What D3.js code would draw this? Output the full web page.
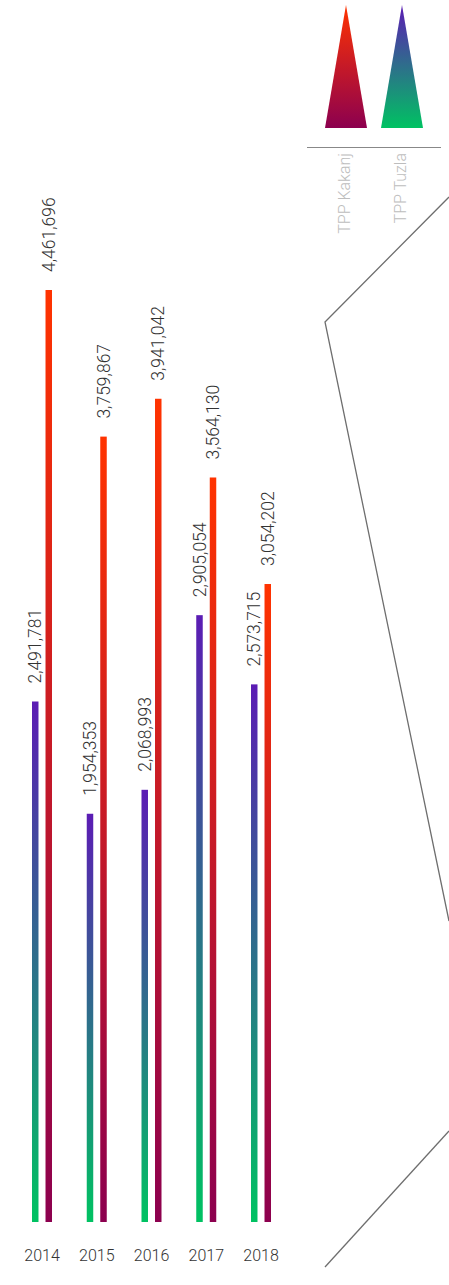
<!DOCTYPE html>
<html>
<head>
<meta charset="utf-8">
<script src="https://d3js.org/d3.v7.min.js"></script>
<style>
  html, body { margin: 0; padding: 0; background: #fff; }
  svg { display: block; font-family: Roboto, "Open Sans", sans-serif; }
</style>
</head>
<body>
<svg id="chart" width="449" height="1285"></svg>
<script>
// data
var years = ["2014", "2015", "2016", "2017", "2018"];
var plants = ["TPP Tuzla", "TPP Kakanj"];
var tuzla = [2491781, 1954353, 2068993, 2905054, 2573715];
var kakanj = [4461696, 3759867, 3941042, 3564130, 3054202];

var svg = d3.select("#chart");
var defs = svg.append("defs");

// vertical gradients per plant (bottom -> top)
function addGradient(id, bottom, top) {
    var g = defs.append("linearGradient")
        .attr("id", id)
        .attr("x1", 0).attr("y1", 1)
        .attr("x2", 0).attr("y2", 0);
    g.append("stop").attr("offset", "0%").attr("stop-color", bottom);
    g.append("stop").attr("offset", "100%").attr("stop-color", top);
}
addGradient("grad-tuzla", "#00c262", "#5b1cb4");
addGradient("grad-kakanj", "#8c004f", "#ff3300");
var gradFor = { "TPP Tuzla": "url(#grad-tuzla)", "TPP Kakanj": "url(#grad-kakanj)" };

var baseline = 1222;
var y = d3.scaleLinear().domain([0, 4500000]).range([baseline, 282]);
var x = d3.scalePoint().domain(years).range([42, 261]);
var xs = d3.scaleBand().domain(plants).range([-10, 10]).paddingInner(0.52);

var rows = years.map(function (yr, i) {
    return { year: yr, values: [
        { plant: "TPP Tuzla", value: tuzla[i] },
        { plant: "TPP Kakanj", value: kakanj[i] }
    ] };
});

var groups = svg.selectAll(".year")
    .data(rows)
    .enter()
    .append("g")
    .attr("class", "year")
    .attr("transform", function (d) { return "translate(" + x(d.year) + ",0)"; });

groups.selectAll("rect")
    .data(function (d) { return d.values; })
    .enter()
    .append("rect")
    .attr("x", function (d) { return xs(d.plant); })
    .attr("width", xs.bandwidth())
    .attr("y", function (d) { return y(d.value); })
    .attr("height", function (d) { return baseline - y(d.value); })
    .attr("fill", function (d) { return gradFor[d.plant]; });

// value labels, rotated
groups.selectAll(".val")
    .data(function (d) { return d.values; })
    .enter()
    .append("text")
    .attr("class", "val")
    .attr("transform", function (d) {
        return "translate(" + (xs(d.plant) + xs.bandwidth() / 2) + "," + (y(d.value) - 18) + ") rotate(-90)";
    })
    .attr("dy", "0.35em")
    .style("font-size", "17.5px")
    .style("font-weight", 300)
    .style("fill", "#333")
    .text(function (d) { return d3.format(",")(d.value); });

// year axis labels
svg.selectAll(".yr")
    .data(years)
    .enter()
    .append("text")
    .attr("class", "yr")
    .attr("x", function (d) { return x(d); })
    .attr("y", 1261)
    .attr("text-anchor", "middle")
    .style("font-size", "16px")
    .style("font-weight", 300)
    .style("fill", "#333")
    .text(function (d) { return d; });

// legend
var legend = [
    { name: "TPP Kakanj", cx: 346 },
    { name: "TPP Tuzla", cx: 402 }
];
svg.selectAll(".tri")
    .data(legend)
    .enter()
    .append("path")
    .attr("class", "tri")
    .attr("d", function (d) {
        return "M" + d.cx + ",5 L" + (d.cx + 21) + ",128 L" + (d.cx - 21) + ",128 Z";
    })
    .attr("fill", function (d) { return gradFor[d.name]; });

svg.append("line")
    .attr("x1", 307).attr("x2", 441)
    .attr("y1", 147.5).attr("y2", 147.5)
    .attr("stroke", "#888")
    .attr("stroke-width", 1);

svg.selectAll(".leg")
    .data(legend)
    .enter()
    .append("text")
    .attr("class", "leg")
    .attr("transform", function (d) { return "translate(" + (d.cx - 2) + ",153) rotate(-90)"; })
    .attr("dy", "0.35em")
    .attr("text-anchor", "end")
    .style("font-size", "16px")
    .style("font-weight", 300)
    .style("fill", "#bdbdbd")
    .text(function (d) { return d.name; });

// decorative outline on the right
svg.append("path")
    .attr("d", "M449,197 L325,322 L449,921")
    .attr("fill", "none")
    .attr("stroke", "#6e6e6e")
    .attr("stroke-width", 1.3);
svg.append("path")
    .attr("d", "M449,1131 L325,1267")
    .attr("fill", "none")
    .attr("stroke", "#6e6e6e")
    .attr("stroke-width", 1.3);
</script>
</body>
</html>
